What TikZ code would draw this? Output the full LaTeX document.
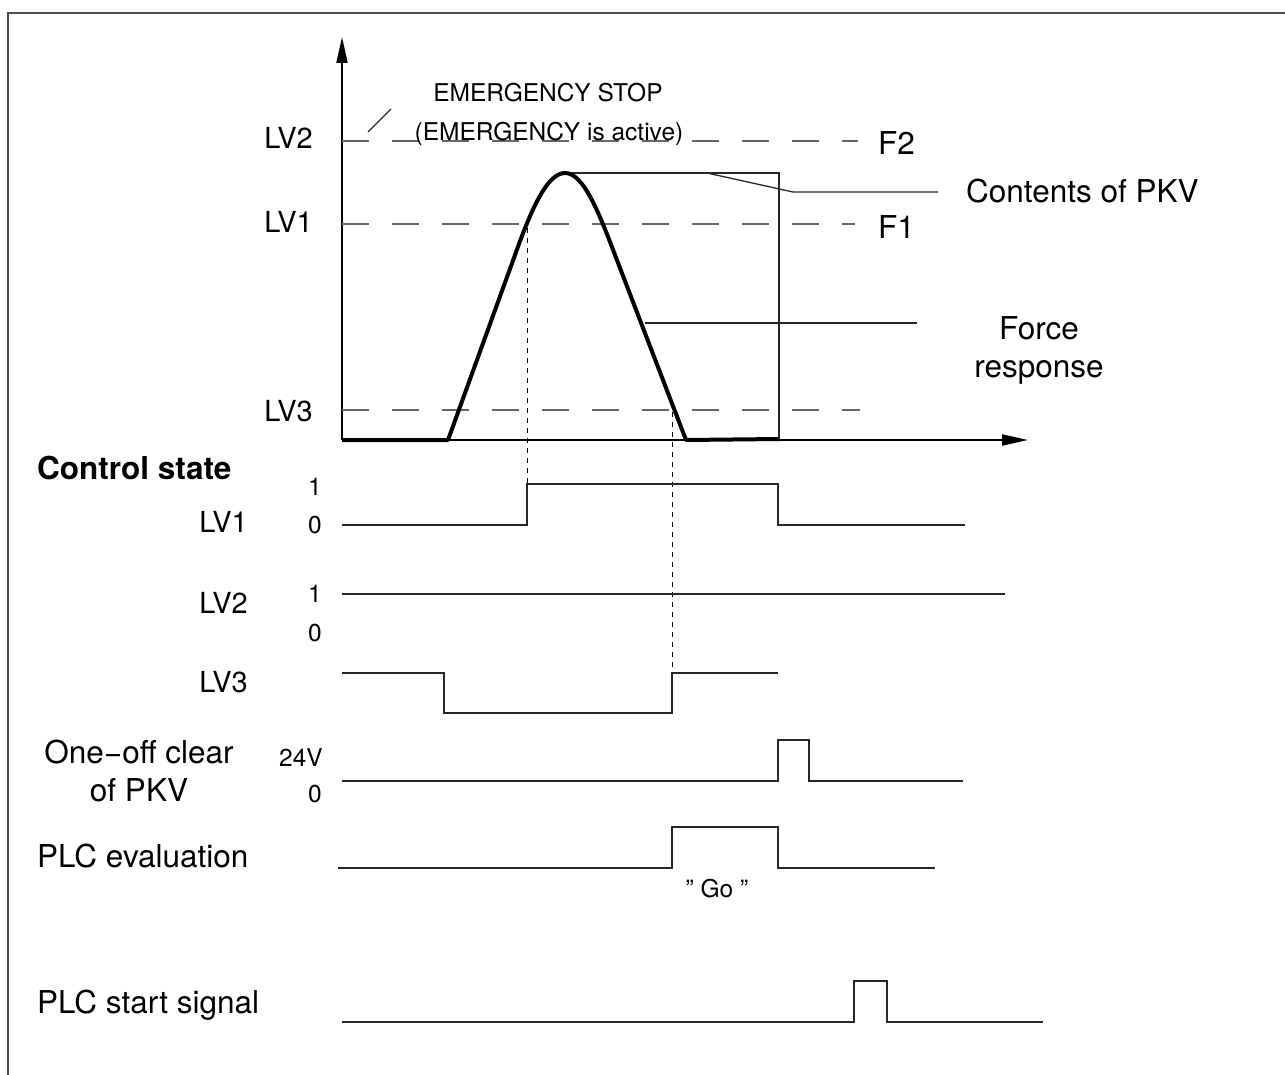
\documentclass[tikz,border=0pt]{standalone}
\usepackage{fontspec}
\setmainfont{TeX Gyre Heros}
\usetikzlibrary{arrows.meta}
\begin{document}
\begin{tikzpicture}[x=1pt,y=-1pt,
  txt/.style={inner sep=0pt, font=\fontsize{31.5}{37}\selectfont},
  lvtxt/.style={inner sep=0pt, font=\fontsize{29}{34}\selectfont},
  numtxt/.style={inner sep=0pt, font=\fontsize{24.5}{29}\selectfont},
  smalltxt/.style={inner sep=0pt, font=\fontsize{24.5}{29}\selectfont},
  frameline/.style={line width=1.8pt, black!70},
  axis/.style={line width=2pt, black, -{Triangle[length=26pt,width=11pt]}},
  level/.style={line width=1.3pt, black!60, dash pattern=on 27pt off 23pt},
  signal/.style={line width=1.6pt, black!85},
  force/.style={line width=4pt, black, line join=round},
  thinline/.style={line width=1.3pt, black!85},
  dotline/.style={line width=1pt, black, dash pattern=on 5pt off 5pt}]
\useasboundingbox (0,0) rectangle (1285,1075);
% frame
\draw[frameline] (8,1075) -- (8,13) -- (1285,13);
% axes
\coordinate (O) at (342,440);
\coordinate (ytip) at (342,37);
\coordinate (xtip) at (1028,440);
\draw[axis] (O) -- (ytip);
\draw[axis] (O) -- (xtip);
% level lines
\draw[level] (342,141) -- (858,141);
\draw[level] (342,224) -- (855,224);
\draw[level] (342,410) -- (860,410);
\node[lvtxt, anchor=base east] (lv2a) at (313,149) {LV2};
\node[lvtxt, anchor=base east] (lv1a) at (313,233) {LV1};
\node[lvtxt, anchor=base east] (lv3a) at (313,421) {LV3};
\node[txt, anchor=base west] (f2) at (878,155) {F2};
\node[txt, anchor=base west] (f1) at (878,239) {F1};
% emergency text
\node[smalltxt, anchor=base] (es1) at (548,102) {EMERGENCY STOP};
\node[smalltxt, anchor=base] (es2) at (549,141) {(EMERGENCY is active)};
\coordinate (esA) at (368,132);
\coordinate (esB) at (391,109);
\draw[thinline] (esA) -- (esB);
% contents of PKV box
\coordinate (peak) at (565,173);
\coordinate (boxTR) at (779,173);
\coordinate (boxBR) at (779,440);
\draw[thinline] (peak) -- (boxTR) -- (boxBR);
\node[txt, anchor=base west] (pkv) at (966,203) {Contents of PKV};
\coordinate (pkvA) at (707,173);
\coordinate (pkvB) at (793,192);
\coordinate (pkvC) at (938,192);
\draw[thinline] (pkvA) -- (pkvB) -- (pkvC);
% force curve
\draw[force] (342,440) -- (448,440) -- (515,255)
  .. controls (531,210) and (547,173) .. (peak)
  .. controls (583,173) and (598,210) .. (615,255)
  -- (686,440) -- (779,439);
\node[txt, anchor=base] (force1) at (1039,339) {Force};
\node[txt, anchor=base] (force2) at (1039,377) {response};
\coordinate (frA) at (645,323);
\coordinate (frB) at (917,323);
\draw[thinline] (frA) -- (frB);
% dotted projections
\draw[dotline] (527,228) -- (527,484);
\draw[dotline] (672,412) -- (672,673);
% control state
\node[inner sep=0pt, font=\fontsize{31.5}{37}\selectfont\bfseries, anchor=base west] (cs) at (37,479) {Control state};
% LV1 signal
\node[lvtxt, anchor=base east] (lv1b) at (248,532) {LV1};
\node[numtxt, anchor=base east] (lv1one) at (322,495) {1};
\node[numtxt, anchor=base east] (lv1zero) at (322,533) {0};
\draw[signal] (342,525) -- (527,525) -- (527,484) -- (778,484) -- (778,525) -- (965,525);
% LV2 signal
\node[lvtxt, anchor=base east] (lv2b) at (248,613) {LV2};
\node[numtxt, anchor=base east] (lv2one) at (322,602) {1};
\node[numtxt, anchor=base east] (lv2zero) at (322,641) {0};
\draw[signal] (342,594) -- (1005,594);
% LV3 signal
\node[lvtxt, anchor=base east] (lv3b) at (248,692) {LV3};
\draw[signal] (342,673) -- (444,673) -- (444,713) -- (672,713) -- (672,673) -- (778,673);
% one-off clear
\node[txt, anchor=base] (oc1) at (139,763) {One−off clear};
\node[txt, anchor=base] (oc2) at (139,801) {of PKV};
\node[numtxt, anchor=base east] (v24) at (323,766) {24V};
\node[numtxt, anchor=base east] (v0) at (322,802) {0};
\draw[signal] (342,781) -- (778,781) -- (778,740) -- (809,740) -- (809,781) -- (963,781);
% PLC evaluation
\node[txt, anchor=base west] (plce) at (37,867) {PLC evaluation};
\draw[signal] (338,868) -- (672,868) -- (672,827) -- (778,827) -- (778,868) -- (935,868);
\node[smalltxt, anchor=base] (go) at (717,897) {” Go ”};
% PLC start
\node[txt, anchor=base west] (plcs) at (37,1013) {PLC start signal};
\draw[signal] (342,1022) -- (854,1022) -- (854,981) -- (887,981) -- (887,1022) -- (1043,1022);
\end{tikzpicture}
\end{document}
